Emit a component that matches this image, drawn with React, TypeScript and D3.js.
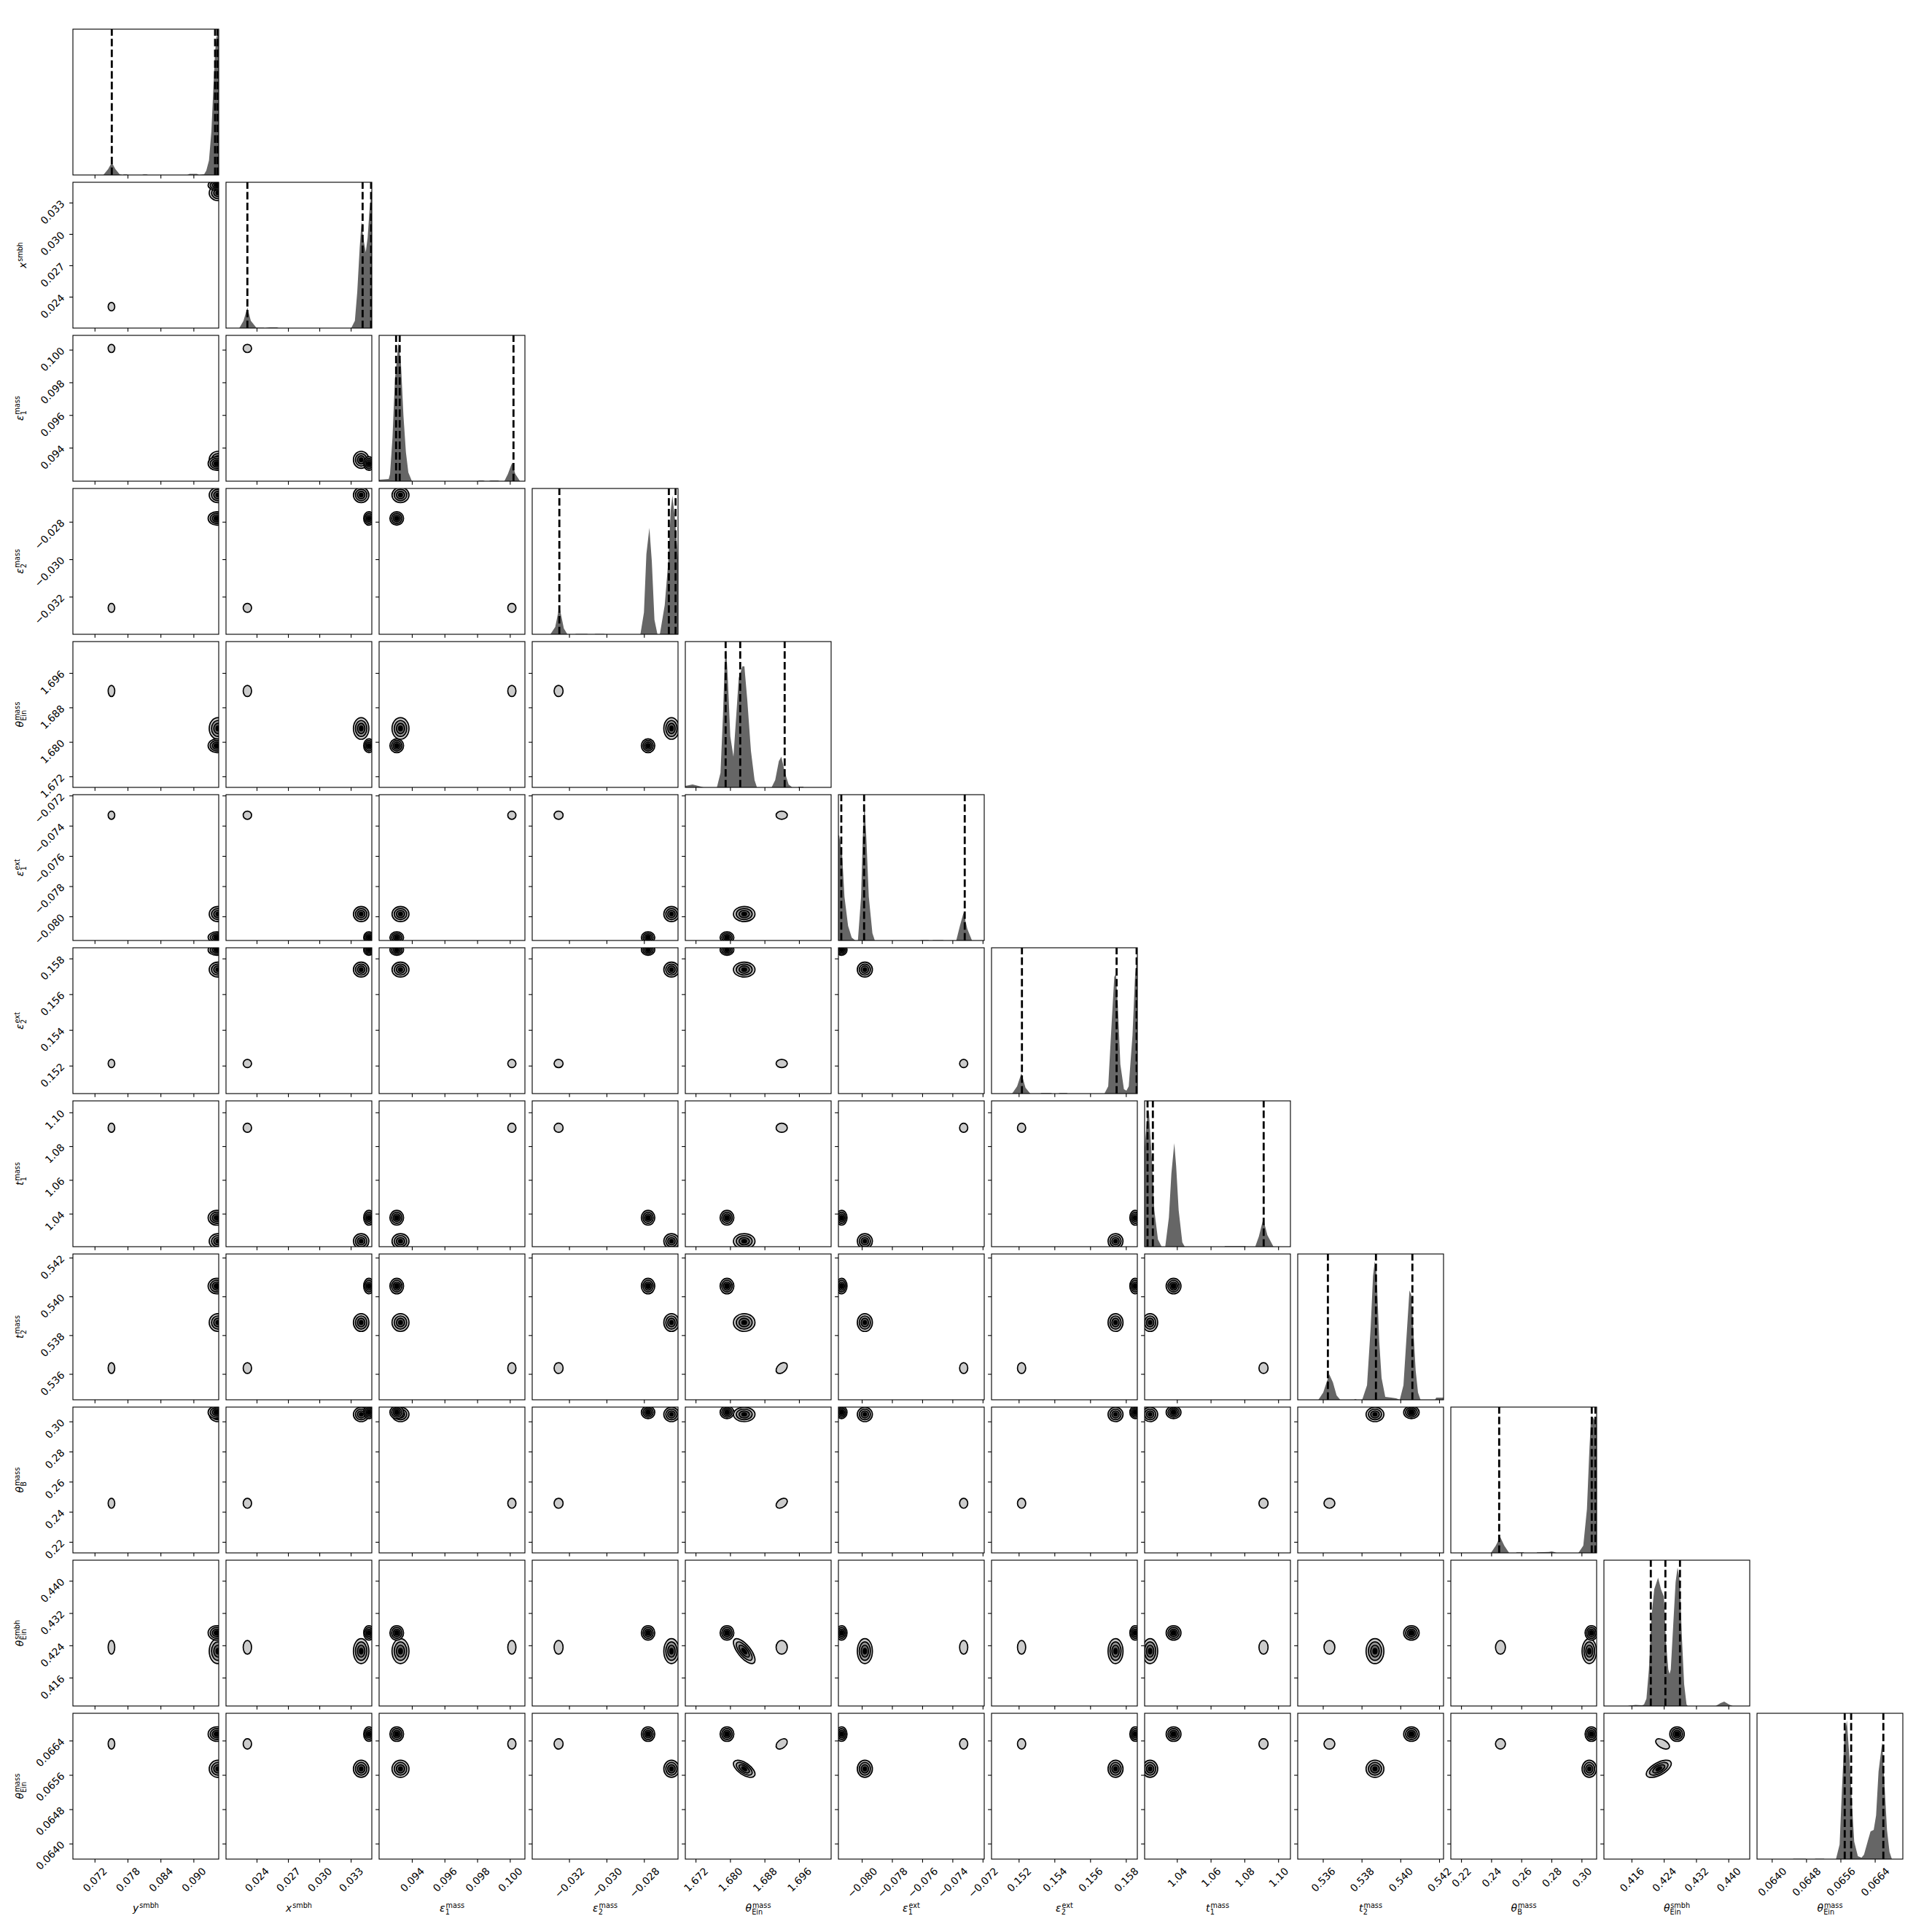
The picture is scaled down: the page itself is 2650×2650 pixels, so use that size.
import React from 'react';
import * as d3 from 'd3';

// ---------------- data ----------------
const PARAM_SYMBOLS = ['y', 'x', 'ε', 'ε', 'θ', 'ε', 'ε', 't', 't', 'θ', 'θ', 'θ'];
const PARAM_SUPS = ['smbh', 'smbh', 'mass', 'mass', 'mass', 'ext', 'ext', 'mass', 'mass', 'mass', 'smbh', 'mass'];
const PARAM_SUBS = ['', '', '1', '2', 'Ein', '1', '2', '1', '2', 'B', 'Ein', 'Ein'];

const RANGES: [number, number][] = [
  [0.06798, 0.09453],
  [0.021037, 0.03498],
  [0.09197, 0.1009],
  [-0.03399, -0.0262],
  [1.66953, 1.70337],
  [-0.08157, -0.07192],
  [0.150457, 0.15862],
  [1.02065, 1.10704],
  [0.534684, 0.542207],
  [0.21293, 0.30978],
  [0.409065, 0.4452],
  [0.063647, 0.067044],
];

const TICKS: number[][] = [
  [0.072, 0.078, 0.084, 0.09],
  [0.024, 0.027, 0.03, 0.033],
  [0.094, 0.096, 0.098, 0.1],
  [-0.032, -0.03, -0.028],
  [1.672, 1.68, 1.688, 1.696],
  [-0.08, -0.078, -0.076, -0.074, -0.072],
  [0.152, 0.154, 0.156, 0.158],
  [1.04, 1.06, 1.08, 1.1],
  [0.536, 0.538, 0.54, 0.542],
  [0.22, 0.24, 0.26, 0.28, 0.3],
  [0.416, 0.424, 0.432, 0.44],
  [0.064, 0.0648, 0.0656, 0.0664],
];
const TICK_DECIMALS = [3, 3, 3, 3, 3, 3, 3, 2, 3, 2, 3, 4];

const QUANTILES: number[][] = [
  [0.07506, 0.09387, 0.0943],
  [0.02308, 0.0341, 0.03491],
  [0.09301, 0.09323, 0.1002],
  [-0.03254, -0.02669, -0.02633],
  [1.67889, 1.68227, 1.69259],
  [-0.08138, -0.07987, -0.07321],
  [0.15216, 0.15746, 0.15858],
  [1.02238, 1.02553, 1.09119],
  [0.53624, 0.53872, 0.5406],
  [0.24504, 0.30654, 0.30896],
  [0.42068, 0.4243, 0.42791],
  [0.06569, 0.06584, 0.06659],
];

// histogram outlines: [value, relative height of panel]
const HIST_0 = [[0.06798, 0], [0.07352, 0], [0.07439, 0.04], [0.07506, 0.085], [0.07572, 0.04], [0.07648, 0.005], [0.07701, 0], [0.07727, 0.004], [0.0778, 0.004], [0.078, 0], [0.08059, 0], [0.08086, 0.004], [0.08139, 0.004], [0.08165, 0], [0.08882, 0], [0.08922, 0.008], [0.09055, 0.008], [0.09095, 0], [0.09188, 0.005], [0.09227, 0.03], [0.09276, 0.1], [0.0932, 0.3], [0.09356, 0.6], [0.09387, 0.85], [0.09413, 0.95], [0.09453, 0.96]];
const HIST_1 = [[0.021037, 0], [0.02231, 0], [0.02271, 0.05], [0.02308, 0.14], [0.02341, 0.05], [0.02394, 0.003], [0.02464, 0.003], [0.02473, 0], [0.02522, 0.005], [0.02592, 0.005], [0.02606, 0], [0.03301, 0], [0.03336, 0.05], [0.03359, 0.25], [0.03382, 0.55], [0.034, 0.73], [0.03416, 0.62], [0.0344, 0.52], [0.03458, 0.62], [0.03475, 0.8], [0.03498, 0.95]];
const HIST_2 = [[0.09197, 0.01], [0.09256, 0.015], [0.09264, 0.05], [0.09279, 0.3], [0.09294, 0.7], [0.09316, 0.95], [0.09331, 0.8], [0.09346, 0.45], [0.09361, 0.2], [0.09376, 0.06], [0.09398, 0], [0.098, 0], [0.09809, 0.005], [0.09835, 0.005], [0.09845, 0], [0.0987, 0], [0.0988, 0.005], [0.09925, 0.005], [0.09935, 0], [0.09964, 0], [0.09986, 0.05], [0.10011, 0.125], [0.10031, 0.05], [0.1006, 0], [0.1009, 0]];
const HIST_3 = [[-0.03399, 0], [-0.03302, 0], [-0.03276, 0.05], [-0.03254, 0.19], [-0.0323, 0.04], [-0.03211, 0], [-0.0317, 0], [-0.03165, 0.003], [-0.03107, 0.003], [-0.031, 0], [-0.03066, 0], [-0.03061, 0.003], [-0.03016, 0.003], [-0.0301, 0], [-0.02821, 0], [-0.02802, 0.15], [-0.02789, 0.55], [-0.02773, 0.73], [-0.0276, 0.5], [-0.02746, 0.1], [-0.0273, 0], [-0.02717, 0], [-0.02691, 0.2], [-0.02672, 0.5], [-0.02659, 0.85], [-0.0265, 0.95], [-0.02637, 0.8], [-0.0262, 0.52]];
const HIST_4 = [[1.66953, 0.01], [1.67122, 0.02], [1.6732, 0.005], [1.67376, 0], [1.67686, 0], [1.6777, 0.1], [1.67828, 0.5], [1.67867, 0.85], [1.67901, 0.95], [1.67939, 0.75], [1.67997, 0.35], [1.6807, 0.21], [1.68137, 0.5], [1.68193, 0.75], [1.68278, 0.83], [1.68324, 0.83], [1.68391, 0.6], [1.68476, 0.25], [1.6856, 0.05], [1.68616, 0], [1.68955, 0], [1.69039, 0.05], [1.69124, 0.18], [1.69182, 0.21], [1.69266, 0.1], [1.69351, 0.02], [1.69435, 0], [1.6957, 0], [1.69576, 0.005], [1.69689, 0.005], [1.697, 0], [1.70337, 0]];
const HIST_5 = [[-0.08157, 0.72], [-0.08152, 0.72], [-0.08133, 0.6], [-0.08117, 0.3], [-0.08093, 0.1], [-0.08069, 0.02], [-0.08045, 0], [-0.08028, 0], [-0.08007, 0.3], [-0.07996, 0.7], [-0.07985, 0.94], [-0.07972, 0.7], [-0.07956, 0.3], [-0.07932, 0.05], [-0.07916, 0], [-0.0762, 0], [-0.0761, 0.003], [-0.07562, 0.003], [-0.07555, 0], [-0.07535, 0], [-0.0753, 0.003], [-0.07466, 0.003], [-0.0746, 0], [-0.07377, 0], [-0.07353, 0.1], [-0.07329, 0.19], [-0.07304, 0.08], [-0.07273, 0], [-0.07192, 0]];
const HIST_6 = [[0.150457, 0], [0.15161, 0], [0.15189, 0.05], [0.15213, 0.14], [0.15236, 0.04], [0.15263, 0], [0.1532, 0], [0.15325, 0.004], [0.15379, 0.004], [0.15385, 0], [0.1542, 0], [0.15427, 0.004], [0.15467, 0.004], [0.15472, 0], [0.15678, 0], [0.15699, 0.05], [0.15719, 0.5], [0.15733, 0.8], [0.15742, 0.82], [0.15753, 0.6], [0.15767, 0.2], [0.15787, 0.03], [0.15801, 0.02], [0.15814, 0.05], [0.15835, 0.4], [0.15849, 0.8], [0.15862, 0.95]];
const HIST_7 = [[1.02065, 0.68], [1.02208, 0.88], [1.02311, 0.94], [1.02497, 0.6], [1.0264, 0.25], [1.02855, 0.05], [1.03071, 0], [1.03287, 0], [1.03503, 0.2], [1.0365, 0.5], [1.03823, 0.71], [1.03935, 0.55], [1.04082, 0.25], [1.04298, 0.03], [1.04441, 0], [1.068, 0], [1.06817, 0.004], [1.08039, 0.004], [1.0806, 0], [1.08618, 0], [1.08834, 0.07], [1.09093, 0.19], [1.09335, 0.08], [1.09698, 0], [1.10704, 0]];
const HIST_8 = [[0.534684, 0], [0.53575, 0], [0.536, 0.05], [0.53625, 0.15], [0.53631, 0.175], [0.5365, 0.12], [0.53669, 0.03], [0.53688, 0], [0.5376, 0], [0.53762, 0.004], [0.5377, 0.004], [0.53772, 0], [0.53801, 0], [0.53826, 0.1], [0.53845, 0.5], [0.53857, 0.85], [0.53866, 0.95], [0.53876, 0.85], [0.53889, 0.4], [0.53901, 0.15], [0.5392, 0.02], [0.53951, 0.015], [0.53976, 0.01], [0.53995, 0], [0.54014, 0.1], [0.54033, 0.5], [0.54045, 0.75], [0.54054, 0.72], [0.54064, 0.5], [0.54077, 0.2], [0.54089, 0.05], [0.54102, 0], [0.54177, 0], [0.54183, 0.015], [0.542207, 0.015]];
const HIST_9 = [[0.21293, 0], [0.23956, 0], [0.24281, 0.05], [0.24571, 0.11], [0.24843, 0.05], [0.25167, 0], [0.2564, 0], [0.25651, 0.004], [0.26136, 0.004], [0.2615, 0], [0.27, 0], [0.27022, 0.004], [0.278, 0.006], [0.2799, 0.01], [0.2815, 0.006], [0.28315, 0], [0.29767, 0], [0.30092, 0.05], [0.30334, 0.3], [0.30494, 0.7], [0.30605, 0.93], [0.30736, 0.93], [0.30978, 0.88]];
const HIST_10 = [[0.409065, 0], [0.415, 0], [0.41539, 0.003], [0.41689, 0.007], [0.4185, 0.005], [0.419, 0.01], [0.4196, 0.05], [0.42021, 0.25], [0.42081, 0.6], [0.42153, 0.8], [0.42249, 0.88], [0.42321, 0.8], [0.42393, 0.75], [0.42442, 0.45], [0.42502, 0.25], [0.42533, 0.22], [0.42563, 0.25], [0.42623, 0.55], [0.42683, 0.85], [0.42731, 0.95], [0.42791, 0.85], [0.42834, 0.5], [0.42894, 0.15], [0.42954, 0.01], [0.42984, 0], [0.43676, 0], [0.43797, 0.02], [0.43888, 0.03], [0.44009, 0.01], [0.44099, 0], [0.4452, 0]];
const HIST_11 = [[0.063647, 0], [0.06448, 0], [0.064496, 0.003], [0.06478, 0.003], [0.064795, 0], [0.06499, 0], [0.065006, 0.003], [0.065204, 0.003], [0.06522, 0], [0.065486, 0], [0.065571, 0.1], [0.065629, 0.5], [0.065685, 0.85], [0.065741, 0.95], [0.065799, 0.7], [0.065855, 0.4], [0.065911, 0.12], [0.065996, 0.02], [0.066081, 0.01], [0.066139, 0.03], [0.066224, 0.12], [0.066292, 0.19], [0.066365, 0.2], [0.066421, 0.3], [0.066478, 0.6], [0.066563, 0.8], [0.066619, 0.5], [0.066675, 0.2], [0.066733, 0.05], [0.066789, 0], [0.067044, 0]];
const HISTS = [HIST_0, HIST_1, HIST_2, HIST_3, HIST_4, HIST_5, HIST_6, HIST_7, HIST_8, HIST_9, HIST_10, HIST_11];

// posterior modes seen in the 2D panels: centres and outer-contour half widths
const MODE_A_CENTER = [0.0942, 0.0347, 0.09305, -0.0278, 1.6792, -0.08136, 0.1585, 1.0378, 0.54055, 0.3063, 0.42718, 0.06656];
const MODE_A_HALF = [0.0016, 0.0005, 0.00042, 0.00036, 0.0016, 0.00036, 0.0003, 0.0044, 0.0004, 0.0042, 0.0018, 0.00017];
const MODE_B_CENTER = [0.0944, 0.03396, 0.09328, -0.02655, 1.6832, -0.07982, 0.1574, 1.0239, 0.53867, 0.3049, 0.42266, 0.06575];
const MODE_B_HALF = [0.0016, 0.00074, 0.00052, 0.00041, 0.0025, 0.0005, 0.00042, 0.0045, 0.00046, 0.0048, 0.0031, 0.0002];
const MODE_C_CENTER = [0.075, 0.02308, 0.1001, -0.03258, 1.6919, -0.07328, 0.15214, 1.0911, 0.53632, 0.2459, 0.4236, 0.06633];
const MODE_C_HALF = [0.0006, 0.0004, 0.00025, 0.00024, 0.0013, 0.00027, 0.00023, 0.0027, 0.00028, 0.0033, 0.0017, 0.00012];
// [mode, param i, param j, correlation]
const MODE_CORR: [string, number, number, number][] = [
  ['B', 4, 10, -0.7],
  ['B', 4, 11, -0.6],
  ['C', 4, 11, 0.4],
  ['B', 10, 11, 0.6],
  ['C', 10, 11, -0.5],
  ['C', 4, 9, 0.4],
  ['C', 4, 8, 0.4],
];

// ---------------- layout / style ----------------
const W = 2650;
const N = 12;
const LEFT = 100;
const TOP = 40;
const SIZE = 200;
const PITCH = 210;
const FS = 13.9;
const SFS = 9.73;
const TICK_LEN = 4.86;
const LEVEL_FILLS = ['#cccccc', '#999999', '#666666', '#000000'];
const MODE_LEVELS: Record<string, number[]> = {
  A: [1, 0.76, 0.52, 0.3],
  B: [1, 0.74, 0.48, 0.22],
  C: [1],
};

const CHAR_EM: Record<string, number> = {
  '0': 0.636, '1': 0.636, '2': 0.636, '3': 0.636, '4': 0.636, '5': 0.636, '6': 0.636, '7': 0.636, '8': 0.636, '9': 0.636,
  '.': 0.318, '−': 0.838, s: 0.521, m: 0.974, b: 0.635, h: 0.634, a: 0.613, e: 0.615, x: 0.592, t: 0.392,
  E: 0.632, i: 0.278, n: 0.634, B: 0.686,
};
const MAIN_EM: Record<string, number> = { y: 0.592, x: 0.592, 'ε': 0.541, 'θ': 0.602, t: 0.392 };
const textW = (s: string, fs: number) => s.split('').reduce((a, c) => a + (CHAR_EM[c] ?? 0.6), 0) * fs;
const fmt = (v: number, d: number) => v.toFixed(d).replace('-', '−');

function ellipseParams(sx: number, sy: number, rho: number) {
  const a = sx * sx, d = sy * sy, b = -rho * sx * sy;
  const m = (a + d) / 2, q = Math.sqrt(((a - d) / 2) ** 2 + b * b);
  const l1 = m + q, l2 = Math.max(m - q, 0.01);
  const ang = (0.5 * Math.atan2(2 * b, a - d) * 180) / Math.PI;
  return { rx: Math.sqrt(l1), ry: Math.sqrt(l2), ang };
}

function corrFor(mode: string, i: number, j: number) {
  const e = MODE_CORR.find((m) => m[0] === mode && ((m[1] === i && m[2] === j) || (m[1] === j && m[2] === i)));
  return e ? e[3] : 0;
}

function MathLabel({ i, x, y, rotate }: { i: number; x: number; y: number; rotate?: boolean }) {
  const sym = PARAM_SYMBOLS[i], sup = PARAM_SUPS[i], sub = PARAM_SUBS[i];
  const mw = (MAIN_EM[sym] ?? 0.6) * FS;
  const total = mw + 1 + Math.max(textW(sup, SFS), textW(sub, SFS));
  const x0 = -total / 2;
  return (
    <g transform={`translate(${x},${y})${rotate ? ' rotate(-90)' : ''}`} fill="#000">
      <text x={x0} y={0} fontSize={FS} fontStyle="italic">{sym}</text>
      <text x={x0 + mw + 1} y={-5} fontSize={SFS}>{sup}</text>
      {sub ? <text x={x0 + mw + 0.3} y={4} fontSize={SFS}>{sub}</text> : null}
    </g>
  );
}

export default function App() {
  const xScales = RANGES.map((d, c) => d3.scaleLinear().domain(d).range([LEFT + c * PITCH, LEFT + c * PITCH + SIZE]));
  const yScales = RANGES.map((d, r) => d3.scaleLinear().domain(d).range([TOP + r * PITCH + SIZE, TOP + r * PITCH]));
  const modeCenters: Record<string, number[]> = { A: MODE_A_CENTER, B: MODE_B_CENTER, C: MODE_C_CENTER };
  const modeHalf: Record<string, number[]> = { A: MODE_A_HALF, B: MODE_B_HALF, C: MODE_C_HALF };
  const drawOrder = ['C', 'B', 'A'];

  const panels: JSX.Element[] = [];
  const clips: JSX.Element[] = [];
  const bottomY = TOP + (N - 1) * PITCH + SIZE;

  for (let r = 0; r < N; r++) {
    for (let c = 0; c <= r; c++) {
      const x0 = LEFT + c * PITCH;
      const y0 = TOP + r * PITCH;
      const id = `clip-${r}-${c}`;
      clips.push(
        <clipPath id={id} key={id}>
          <rect x={x0} y={y0} width={SIZE} height={SIZE} />
        </clipPath>
      );
      const xs = xScales[c];
      const content: JSX.Element[] = [];
      if (r === c) {
        const yH = d3.scaleLinear().domain([0, 1]).range([y0 + SIZE, y0]);
        const area = d3
          .area<number[]>()
          .x((d) => xs(d[0]))
          .y0(y0 + SIZE)
          .y1((d) => yH(d[1]));
        content.push(<path key="h" d={area(HISTS[c]) || ''} fill="#666666" stroke="none" />);
        QUANTILES[c].forEach((q, k) => {
          content.push(
            <path
              key={`q${k}`}
              d={`M${xs(q)},${y0 + SIZE}V${y0}`}
              stroke="#000"
              strokeWidth={2.8}
              strokeDasharray="10.3 4.4"
              fill="none"
            />
          );
        });
      } else {
        const ys = yScales[r];
        drawOrder.forEach((m) => {
          const cx = xs(modeCenters[m][c]);
          const cy = ys(modeCenters[m][r]);
          const sx = Math.abs(xs(modeCenters[m][c] + modeHalf[m][c]) - cx);
          const sy = Math.abs(ys(modeCenters[m][r] + modeHalf[m][r]) - cy);
          const { rx, ry, ang } = ellipseParams(sx, sy, corrFor(m, c, r));
          MODE_LEVELS[m].forEach((f, k) => {
            content.push(
              <ellipse
                key={`${m}${k}`}
                cx={cx}
                cy={cy}
                rx={rx * f}
                ry={ry * f}
                transform={`rotate(${ang} ${cx} ${cy})`}
                fill={LEVEL_FILLS[k]}
                stroke="#000"
                strokeWidth={1.7}
              />
            );
          });
        });
      }

      const ticks: JSX.Element[] = [];
      TICKS[c].forEach((t, k) => {
        const tx = xs(t);
        ticks.push(<line key={`xt${k}`} x1={tx} x2={tx} y1={y0 + SIZE} y2={y0 + SIZE + TICK_LEN} stroke="#000" strokeWidth={1.11} />);
        if (r === N - 1) {
          const s = fmt(t, TICK_DECIMALS[c]);
          const w = textW(s, FS);
          const cyl = y0 + SIZE + 2 * TICK_LEN + (w + 12) / (2 * Math.SQRT2);
          ticks.push(
            <text
              key={`xl${k}`}
              transform={`translate(${tx},${cyl}) rotate(-45)`}
              textAnchor="middle"
              dominantBaseline="central"
              fontSize={FS}
            >
              {s}
            </text>
          );
        }
      });
      if (r !== c) {
        const ys = yScales[r];
        TICKS[r].forEach((t, k) => {
          const ty = ys(t);
          ticks.push(<line key={`yt${k}`} x1={x0 - TICK_LEN} x2={x0} y1={ty} y2={ty} stroke="#000" strokeWidth={1.11} />);
          if (c === 0) {
            const s = fmt(t, TICK_DECIMALS[r]);
            ticks.push(
              <text
                key={`yl${k}`}
                transform={`translate(${x0 - 14},${ty - 1.5}) rotate(-45)`}
                textAnchor="end"
                dominantBaseline="central"
                fontSize={FS}
              >
                {s}
              </text>
            );
          }
        });
      }

      panels.push(
        <g key={`p${r}-${c}`}>
          <g clipPath={`url(#${id})`}>{content}</g>
          <rect x={x0} y={y0} width={SIZE} height={SIZE} fill="none" stroke="#000" strokeWidth={1.11} />
          {ticks}
        </g>
      );
    }
  }

  const axisLabels: JSX.Element[] = [];
  for (let c = 0; c < N; c++) {
    axisLabels.push(<MathLabel key={`xlab${c}`} i={c} x={LEFT + c * PITCH + SIZE / 2} y={bottomY + 72} />);
  }
  for (let r = 1; r < N; r++) {
    const bx = PARAM_SUBS[r] ? 32 : 36;
    axisLabels.push(<MathLabel key={`ylab${r}`} i={r} x={bx} y={TOP + r * PITCH + SIZE / 2} rotate />);
  }

  return (
    <svg
      width={W}
      height={W}
      viewBox={`0 0 ${W} ${W}`}
      style={{ position: 'absolute', left: 0, top: 0, background: '#fff' }}
      fontFamily="'DejaVu Sans', sans-serif"
    >
      <rect x={0} y={0} width={W} height={W} fill="#fff" />
      <defs>{clips}</defs>
      {panels}
      {axisLabels}
    </svg>
  );
}
